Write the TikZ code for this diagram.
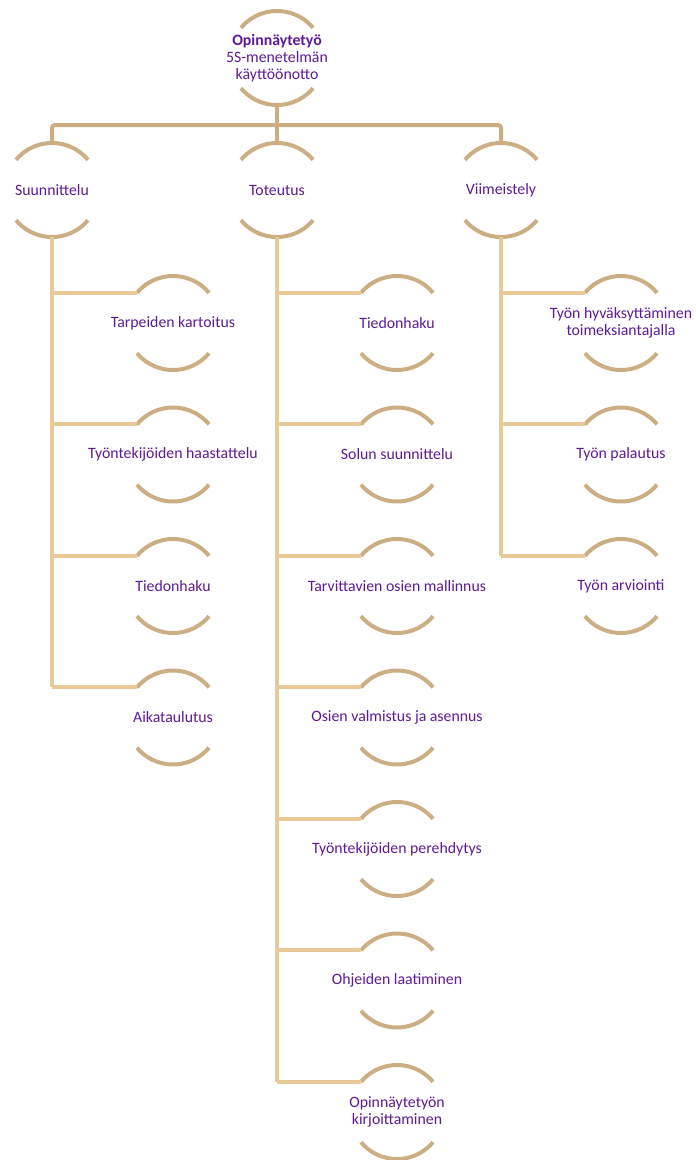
\documentclass[tikz,border=0pt]{standalone}
\usepackage{fontspec}
\setmainfont{Carlito}
\usetikzlibrary{calc}
\definecolor{ink}{HTML}{5E1A96}
\definecolor{ringtan}{HTML}{CBAE84}
\definecolor{linktan}{HTML}{CBAE84}
\definecolor{branchtan}{HTML}{E9C998}
\tikzset{
  x=1pt, y=1pt,
  label/.style={text=ink, font=\fontsize{15.8}{17}\selectfont, align=center, inner sep=0pt},
  ringarc/.style={draw=ringtan, line width=4pt},
  upperlink/.style={draw=linktan, line width=4pt, rounded corners=3pt},
  branch/.style={draw=branchtan, line width=4pt},
}
% two arcs, above and below a node, radius 47
\newcommand\ringaround[1]{%
  \draw[ringarc] (#1.center) ++(40:47) arc (40:140:47);
  \draw[ringarc] (#1.center) ++(220:47) arc (220:320:47);
  \coordinate (#1-n) at ($(#1.center)+(90:47)$);
  \coordinate (#1-s) at ($(#1.center)+(270:47)$);
  \coordinate (#1-w) at ($(#1.center)+(140:47)$);
}
\begin{document}
\begin{tikzpicture}
\useasboundingbox (0,0) rectangle (696,-1160);

% root
\node[label] (root) at (277,-58) {\textbf{Opinnäytetyö}\\5S-menetelmän\\käyttöönotto};
\ringaround{root}

% phases
\node[label] (plan) at (52,-190) {Suunnittelu};
\node[label] (impl) at (277,-190) {Toteutus};
\node[label] (fin)  at (501,-190) {Viimeistely};
\foreach \n in {plan,impl,fin} {\ringaround{\n}}

% tasks of Suunnittelu
\node[label] (p1) at (173,-323) {Tarpeiden kartoitus};
\node[label] (p2) at (173,-454.5) {Työntekijöiden haastattelu};
\node[label] (p3) at (173,-586) {Tiedonhaku};
\node[label] (p4) at (173,-717.5) {Aikataulutus};

% tasks of Toteutus
\node[label] (t1) at (397,-323) {Tiedonhaku};
\node[label] (t2) at (397,-454.5) {Solun suunnittelu};
\node[label] (t3) at (397,-586) {Tarvittavien osien mallinnus};
\node[label] (t4) at (397,-717.5) {Osien valmistus ja asennus};
\node[label] (t5) at (397,-849) {Työntekijöiden perehdytys};
\node[label] (t6) at (397,-980.5) {Ohjeiden laatiminen};
\node[label] (t7) at (397,-1112) {Opinnäytetyön\\kirjoittaminen};

% tasks of Viimeistely
\node[label] (f1) at (621,-323) {Työn hyväksyttäminen\\toimeksiantajalla};
\node[label] (f2) at (621,-454.5) {Työn palautus};
\node[label] (f3) at (621,-586) {Työn arviointi};

\foreach \n in {p1,p2,p3,p4,t1,t2,t3,t4,t5,t6,t7,f1,f2,f3} {\ringaround{\n}}

% root to phases
\coordinate (bar) at (0,-125);
\draw[upperlink] (root-s) -- (root-s |- bar);
\draw[upperlink] (plan-n) -- (plan-n |- bar) -- (fin-n |- bar) -- (fin-n);
\draw[upperlink] (impl-n) -- (impl-n |- bar);

% phases to tasks
\draw[branch] (plan-s) -- (plan-s |- p4-w);
\foreach \c in {p1,p2,p3,p4} {\draw[branch] (plan-s |- \c-w) -- (\c-w);}
\draw[branch] (impl-s) -- (impl-s |- t7-w);
\foreach \c in {t1,t2,t3,t4,t5,t6,t7} {\draw[branch] (impl-s |- \c-w) -- (\c-w);}
\draw[branch] (fin-s) -- (fin-s |- f3-w);
\foreach \c in {f1,f2,f3} {\draw[branch] (fin-s |- \c-w) -- (\c-w);}
\end{tikzpicture}
\end{document}
